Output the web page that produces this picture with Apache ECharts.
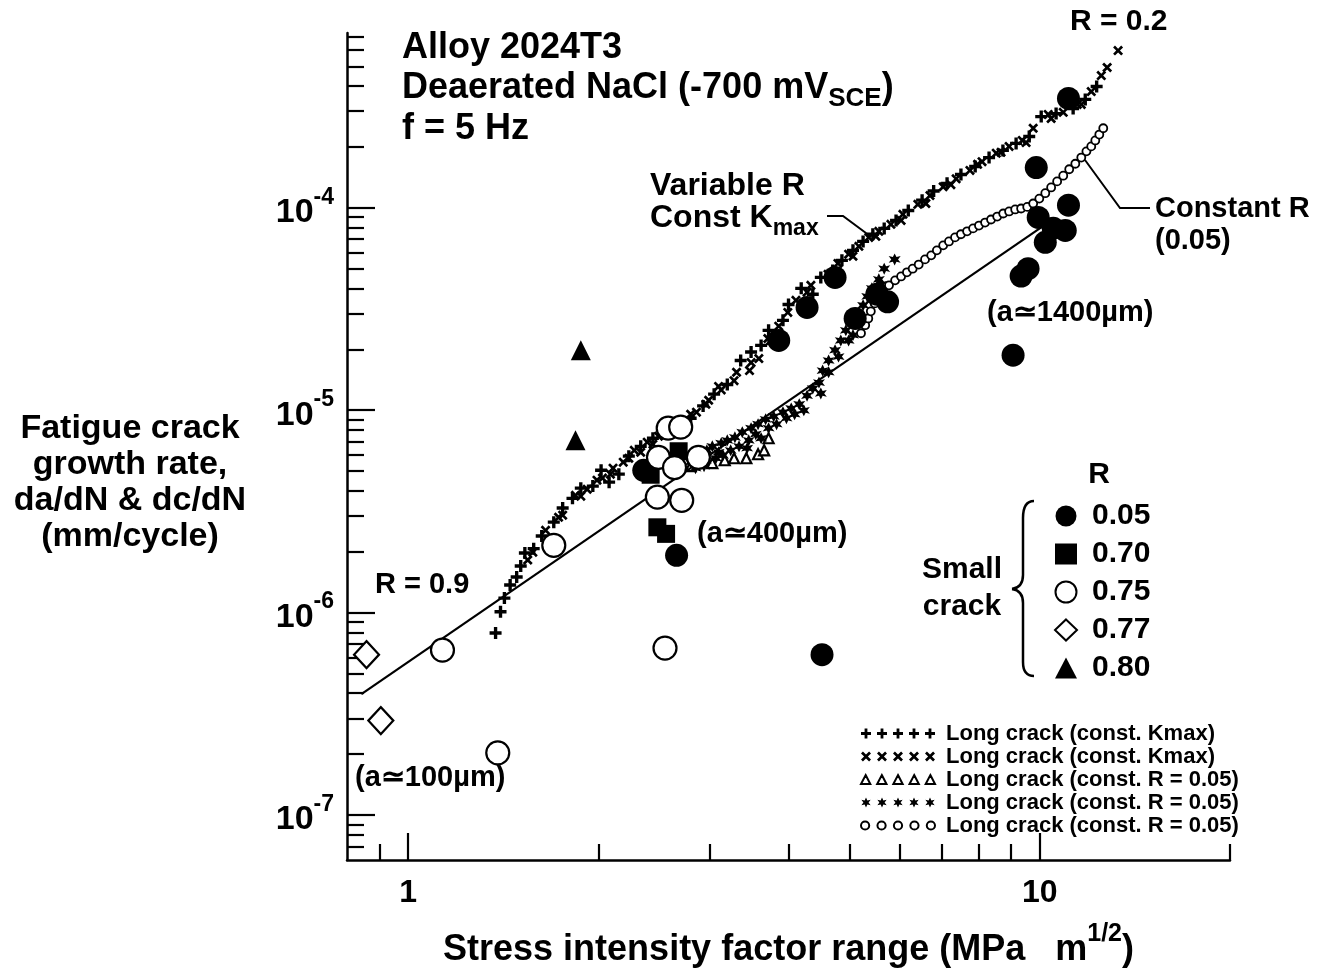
<!DOCTYPE html>
<html>
<head>
<meta charset="utf-8">
<title>Fatigue crack growth - Alloy 2024T3</title>
<script src="https://cdn.jsdelivr.net/npm/echarts@6/dist/echarts.min.js"></script>
<style>
  html, body { margin: 0; padding: 0; background: #fff; }
  #main { width: 1330px; height: 972px; }
</style>
</head>
<body>
<div id="main"></div>
<script>
// axis extents and ticks
var xRange = [0.8, 20];
var yRange = [6e-8, 7.3e-4];
var xMajorTicks = [1, 10];
var xMinorTicks = [0.9, 2, 3, 4, 5, 6, 7, 8, 9, 20];
var yMajorTicks = [1e-7, 1e-6, 1e-5, 1e-4];
var yMinorTicks = [7e-8, 8e-8, 9e-8,
  2e-7, 3e-7, 4e-7, 5e-7, 6e-7, 7e-7, 8e-7, 9e-7,
  2e-6, 3e-6, 4e-6, 5e-6, 6e-6, 7e-6, 8e-6, 9e-6,
  2e-5, 3e-5, 4e-5, 5e-5, 6e-5, 7e-5, 8e-5, 9e-5,
  2e-4, 3e-4, 4e-4, 5e-4, 6e-4, 7e-4];

// long crack, const Kmax (+)
var longKmaxPlus = [[1.375,7.93e-7],[1.40,1.01e-6],[1.42,1.18e-6],[1.45,1.37e-6],[1.485,1.50e-6],[1.507,1.70e-6],
  [1.53,1.97e-6],[1.58,2.07e-6],[1.627,2.39e-6],[1.70,2.80e-6],[1.756,3.29e-6],[1.82,3.67e-6],[1.876,4.12e-6],
  [1.96,4.22e-6],[2.02,5.05e-6],[2.08,4.41e-6],[2.155,4.83e-6],[2.235,5.93e-6],[2.334,6.63e-6],[2.44,7.27e-6],
  [2.53,7.70e-6],[2.66,8.34e-6],[2.80,9.13e-6],[2.93,1.05e-5],[3.05,1.20e-5],[3.20,1.34e-5],[3.36,1.76e-5],
  [3.49,1.94e-5],[3.62,2.09e-5],[3.72,2.48e-5],[3.92,2.78e-5],[4.00,3.33e-5],[4.19,4.0e-5],[4.37,3.74e-5],
  [4.50,4.53e-5],[4.70,4.90e-5],[4.86,5.50e-5],[5.06,6.16e-5],[5.25,6.82e-5],[5.44,7.40e-5],[5.67,7.91e-5],
  [5.92,8.66e-5],[6.19,9.70e-5],[6.51,1.09e-4],[6.79,1.21e-4],[7.13,1.32e-4],[7.50,1.46e-4],[7.90,1.60e-4],
  [8.31,1.77e-4],[8.74,1.92e-4],[9.17,2.08e-4],[9.62,2.25e-4],[10.05,2.82e-4],[10.61,2.92e-4],[11.29,3.09e-4],
  [11.8,3.43e-4],[12.3,3.97e-4]];

// long crack, const Kmax (x)
var longKmaxCross = [[1.546,1.82e-6],[1.575,1.99e-6],[1.65,2.55e-6],[1.67,2.28e-6],[1.73,2.96e-6],[1.756,3.03e-6],
  [1.84,3.80e-6],[1.876,3.76e-6],[1.92,4.07e-6],[1.99,4.51e-6],[2.03,4.62e-6],[2.09,4.83e-6],[2.11,5.17e-6],
  [2.19,5.54e-6],[2.235,5.79e-6],[2.28,6.34e-6],[2.334,6.20e-6],[2.39,6.95e-6],[2.44,6.79e-6],[2.49,7.44e-6],
  [2.55,8.15e-6],[2.60,7.96e-6],[2.68,8.53e-6],[2.73,8.82e-6],[2.80,9.55e-6],[2.86,9.78e-6],[2.96,1.07e-5],
  [2.99,1.12e-5],[3.10,1.31e-5],[3.13,1.26e-5],[3.28,1.40e-5],[3.31,1.54e-5],[3.47,1.57e-5],[3.49,1.72e-5],
  [3.59,1.80e-5],[3.71,2.26e-5],[3.75,2.21e-5],[3.86,2.60e-5],[3.99,3.04e-5],[4.11,3.49e-5],[4.28,3.83e-5],
  [4.34,4.14e-5],[4.62,4.69e-5],[4.67,4.58e-5],[4.79,5.31e-5],[4.98,5.90e-5],[5.06,5.76e-5],[5.17,6.45e-5],
  [5.36,7.14e-5],[5.50,7.23e-5],[5.56,7.65e-5],[5.81,8.28e-5],[6.03,8.66e-5],[6.07,9.28e-5],[6.41,1.04e-4],
  [6.60,1.05e-4],[6.70,1.15e-4],[7.03,1.27e-4],[7.23,1.30e-4],[7.37,1.39e-4],[7.75,1.53e-4],[7.97,1.64e-4],
  [8.10,1.69e-4],[8.53,1.86e-4],[8.68,1.88e-4],[8.94,2.01e-4],[9.38,2.15e-4],[9.51,2.10e-4],[9.76,2.47e-4],
  [10.31,2.89e-4],[10.42,2.76e-4],[10.89,2.96e-4],[11.46,3.24e-4],[11.63,3.24e-4],[12.06,3.75e-4],
  [12.51,4.50e-4],[12.78,4.93e-4],[13.3,5.98e-4]];

// long crack, const R = 0.05 (open triangles)
var longR05Tri = [[2.80,5.29e-6],[2.91,5.54e-6],[3.03,5.48e-6],[3.17,5.66e-6],[3.28,5.79e-6],[3.43,5.79e-6],
  [3.58,6.06e-6],[3.66,6.34e-6],[3.72,7.27e-6]];

// long crack, const R = 0.05 (asterisks)
var longR05Star = [[2.80,5.54e-6],[2.85,5.17e-6],[2.885,5.99e-6],[2.94,5.29e-6],[2.96,5.66e-6],[2.97,6.34e-6],
  [3.03,6.63e-6],[3.07,5.79e-6],[3.10,6.20e-6],[3.13,6.87e-6],[3.15,5.99e-6],[3.20,7.10e-6],[3.24,6.34e-6],
  [3.29,7.35e-6],[3.34,6.63e-6],[3.38,7.79e-6],[3.44,6.49e-6],[3.46,7.10e-6],[3.49,8.15e-6],[3.55,7.61e-6],
  [3.58,8.53e-6],[3.62,7.27e-6],[3.68,9.02e-6],[3.72,8.15e-6],[3.79,9.33e-6],[3.83,8.53e-6],[3.92,9.77e-6],
  [3.97,9.13e-6],[4.04,1.02e-5],[4.09,9.55e-6],[4.16,1.07e-5],[4.23,9.99e-6],[4.28,1.18e-5],[4.37,1.28e-5],
  [4.47,1.37e-5],[4.50,1.21e-5],[4.53,1.57e-5],[4.63,1.54e-5],[4.63,1.76e-5],[4.74,1.98e-5],[4.80,1.84e-5],
  [4.84,2.21e-5],[4.98,2.21e-5],[4.93,2.48e-5],[5.02,2.72e-5],[5.06,2.35e-5],[5.13,3.0e-5],[5.25,2.63e-5],
  [5.25,3.30e-5],[5.33,3.65e-5],[5.40,3.49e-5],[5.42,4.0e-5],[5.56,4.43e-5],[5.60,4.18e-5],[5.67,5.0e-5],
  [5.89,5.56e-5]];

// long crack, const R = 0.05 (small open circles)
var longR05Circle = [[5.21,2.40e-5],[5.29,2.63e-5],[5.35,2.84e-5],[5.40,3.08e-5],[5.48,3.37e-5],[5.56,3.65e-5],
  [5.65,3.91e-5],[5.77,4.14e-5],[5.90,4.38e-5],[6.03,4.58e-5],[6.16,4.80e-5],[6.29,5.0e-5],[6.43,5.24e-5],
  [6.58,5.56e-5],[6.73,5.82e-5],[6.87,6.16e-5],[7.03,6.52e-5],[7.18,6.82e-5],[7.34,7.14e-5],[7.50,7.40e-5],
  [7.67,7.65e-5],[7.84,7.91e-5],[8.01,8.17e-5],[8.19,8.45e-5],[8.37,8.75e-5],[8.56,9.05e-5],[8.75,9.37e-5],
  [8.94,9.59e-5],[9.14,9.81e-5],[9.34,9.92e-5],[9.55,1.01e-4],[9.76,1.05e-4],[9.98,1.11e-4],[10.2,1.18e-4],
  [10.42,1.26e-4],[10.65,1.35e-4],[10.89,1.44e-4],[11.13,1.55e-4],[11.38,1.65e-4],[11.63,1.77e-4],
  [11.85,1.90e-4],[12.06,2.01e-4],[12.24,2.15e-4],[12.42,2.30e-4],[12.6,2.47e-4]];

// small cracks
var smallR005 = [[11.1,3.47e-4],[9.87,1.58e-4],[11.1,1.03e-4],[9.94,8.96e-5],[10.5,7.93e-5],[10.97,7.73e-5],
  [10.2,6.75e-5],[9.58,5.0e-5],[9.34,4.6e-5],[9.07,1.87e-5],[4.74,4.53e-5],[4.28,3.22e-5],[3.86,2.21e-5],
  [5.52,3.74e-5],[5.74,3.43e-5],[5.1,2.84e-5],[2.66,1.92e-6],[4.52,6.2e-7],[2.36,5.05e-6]];
var smallR070 = [[2.68,6.27e-6],[2.42,4.8e-6],[2.48,2.64e-6],[2.56,2.45e-6]];
var smallR075 = [[1.133,6.53e-7],[2.55,6.68e-7],[1.70,2.15e-6],[2.58,8.15e-6],[2.70,8.25e-6],[2.49,5.85e-6],
  [2.64,5.2e-6],[2.88,5.85e-6],[2.48,3.72e-6],[2.71,3.59e-6],[1.386,2.03e-7]];
var smallR077 = [[0.859,6.2e-7],[0.905,2.93e-7]];
var smallR080 = [[1.876,1.98e-5],[1.84,7.1e-6]];

// solid line through the small-crack data (R = 0.9)
var lineR09 = [[0.843,3.96e-7],[10.05,8.0e-5]];

var longLabels = ['Long crack (const. Kmax)', 'Long crack (const. Kmax)', 'Long crack (const. R = 0.05)',
  'Long crack (const. R = 0.05)', 'Long crack (const. R = 0.05)'];
var smallLabels = ['0.05', '0.70', '0.75', '0.77', '0.80'];

var FONT = '"Liberation Sans", Arial, Helvetica, sans-serif';

// marker outlines on a 10x10 cell
var plusPts = [[3.6,0],[6.4,0],[6.4,3.6],[10,3.6],[10,6.4],[6.4,6.4],[6.4,10],[3.6,10],[3.6,6.4],[0,6.4],[0,3.6],[3.6,3.6]];
var crossPts = [[0,1.9],[1.9,0],[5,3.1],[8.1,0],[10,1.9],[6.9,5],[10,8.1],[8.1,10],[5,6.9],[1.9,10],[0,8.1],[3.1,5]];
var starPts = [[5,0],[6.4,3],[9.6,2.2],[7.6,5],[9.6,7.8],[6.4,7],[5,10],[3.6,7],[0.4,7.8],[2.4,5],[0.4,2.2],[3.6,3]];
var triPts = [[5,0.6],[9.6,9.4],[0.4,9.4]];

function poly(pts, dx) {
  return 'M' + pts.map(function (p) { return (p[0] + dx) + ',' + p[1]; }).join('L') + 'Z';
}
function ring(dx) {
  return 'M' + (dx + 1) + ',5a4,4 0 1,0 8,0a4,4 0 1,0 -8,0Z';
}
function rowIcon(fn) {
  var s = '';
  for (var i = 0; i < 5; i++) s += fn(i * 16);
  return 'path://' + s;
}

var PLUS = 'path://' + poly(plusPts, 0);
var CROSS = 'path://' + poly(crossPts, 0);
var STAR = 'path://' + poly(starPts, 0);

var chart = echarts.init(document.getElementById('main'), null, { renderer: 'canvas' });

function lg(v) { return Math.log10(v); }

function txt(x, y, text, size, align) {
  return {
    type: 'text', x: x, y: y, z: 100,
    style: { text: text, font: 'bold ' + size + 'px ' + FONT, fill: '#000',
      align: align || 'left', verticalAlign: 'middle' }
  };
}
function subTxt(x, y, main, sub, tail, size) {
  return {
    type: 'text', x: x, y: y, z: 100,
    style: {
      text: '{t|' + main + '}{s|' + sub + '}' + (tail ? '{t|' + tail + '}' : ''),
      align: 'left', verticalAlign: 'middle', fill: '#000',
      rich: {
        t: { fontSize: size, fontWeight: 'bold', fontFamily: FONT, fill: '#000', lineHeight: size + 6, verticalAlign: 'top' },
        s: { fontSize: Math.round(size * 0.72), fontWeight: 'bold', fontFamily: FONT, fill: '#000',
          lineHeight: Math.round(size * 0.72), verticalAlign: 'bottom' }
      }
    }
  };
}
function seg(points, w) {
  return { type: 'polyline', z: 100, shape: { points: points },
    style: { stroke: '#000', lineWidth: w || 2, fill: null } };
}
function bez(a, c1, c2, b) {
  return { type: 'bezierCurve', z: 100,
    shape: { x1: a[0], y1: a[1], cpx1: c1[0], cpy1: c1[1], cpx2: c2[0], cpy2: c2[1], x2: b[0], y2: b[1] },
    style: { stroke: '#000', lineWidth: 2.5, fill: null } };
}

var tickLine = { color: '#000', width: 2.2 };
var solid = { color: '#000', opacity: 1 };
var hollow = { color: '#fff', borderColor: '#000', opacity: 1 };

var option = {
  animation: false,
  backgroundColor: '#fff',
  grid: { left: 347, right: 100, top: 33, bottom: 112, containLabel: false, outerBoundsMode: 'none' },
  xAxis: [
    { type: 'log', logBase: 10, min: xRange[0], max: xRange[1], show: false },
    {
      type: 'value', min: lg(xRange[0]), max: lg(xRange[1]), position: 'bottom',
      axisLine: { show: true, onZero: false, lineStyle: { color: '#000', width: 2.5 } },
      axisTick: { show: true, inside: true, length: 27, customValues: xMajorTicks.map(lg), lineStyle: tickLine },
      axisLabel: {
        show: true, customValues: xMajorTicks.map(lg), margin: 17,
        formatter: function (v) { return String(Math.round(Math.pow(10, v))); },
        fontSize: 32, fontWeight: 'bold', fontFamily: FONT, color: '#000'
      },
      splitLine: { show: false },
      name: '{t|Stress intensity factor range (MPa   m}{s|1/2}{t|)}',
      nameLocation: 'middle', nameGap: 62,
      nameTextStyle: {
        rich: {
          t: { fontSize: 36, fontWeight: 'bold', fontFamily: FONT, color: '#000', lineHeight: 46, verticalAlign: 'bottom' },
          s: { fontSize: 25, fontWeight: 'bold', fontFamily: FONT, color: '#000', lineHeight: 25, verticalAlign: 'top' }
        }
      }
    },
    {
      type: 'value', min: lg(xRange[0]), max: lg(xRange[1]), position: 'bottom',
      axisLine: { show: false, onZero: false },
      axisTick: { show: true, inside: true, length: 16, customValues: xMinorTicks.map(lg), lineStyle: tickLine },
      axisLabel: { show: false }, splitLine: { show: false }
    }
  ],
  yAxis: [
    { type: 'log', logBase: 10, min: yRange[0], max: yRange[1], show: false },
    {
      type: 'value', min: lg(yRange[0]), max: lg(yRange[1]), position: 'left',
      axisLine: { show: true, onZero: false, lineStyle: { color: '#000', width: 2.5 } },
      axisTick: { show: true, inside: true, length: 28, customValues: yMajorTicks.map(lg), lineStyle: tickLine },
      axisLabel: {
        show: true, customValues: yMajorTicks.map(lg), margin: 13,
        formatter: function (v) { return '{b|10}{s|' + Math.round(v) + '}'; },
        rich: {
          b: { fontSize: 34, fontWeight: 'bold', fontFamily: FONT, color: '#000', lineHeight: 44, verticalAlign: 'bottom' },
          s: { fontSize: 23, fontWeight: 'bold', fontFamily: FONT, color: '#000', lineHeight: 22, verticalAlign: 'top' }
        }
      },
      splitLine: { show: false }
    },
    {
      type: 'value', min: lg(yRange[0]), max: lg(yRange[1]), position: 'left',
      axisLine: { show: false, onZero: false },
      axisTick: { show: true, inside: true, length: 17, customValues: yMinorTicks.map(lg), lineStyle: tickLine },
      axisLabel: { show: false }, splitLine: { show: false }
    }
  ],
  legend: [
    {
      orient: 'vertical', left: 855, top: 717, selectedMode: false,
      itemWidth: 74, itemHeight: 10, itemGap: 0,
      formatter: function (n) { return n.replace(/ #\d$/, ''); },
      textStyle: { fontSize: 22, fontWeight: 'bold', fontFamily: FONT, color: '#000', lineHeight: 23, padding: [0, 0, 0, 6] },
      data: [
        { name: longLabels[0] + ' #1', icon: rowIcon(function (dx) { return poly(plusPts, dx); }) },
        { name: longLabels[1] + ' #2', icon: rowIcon(function (dx) { return poly(crossPts, dx); }) },
        { name: longLabels[2] + ' #3', icon: rowIcon(function (dx) { return poly(triPts, dx); }) },
        { name: longLabels[3] + ' #4', icon: rowIcon(function (dx) { return poly(starPts, dx); }) },
        { name: longLabels[4] + ' #5', icon: rowIcon(ring) }
      ]
    },
    {
      orient: 'vertical', left: 1049, top: 492, selectedMode: false,
      itemWidth: 22, itemHeight: 21, itemGap: 0,
      textStyle: { fontSize: 30, fontWeight: 'bold', fontFamily: FONT, color: '#000', lineHeight: 38, padding: [0, 0, 0, 10] },
      data: smallLabels
    }
  ],
  series: [
    { name: longLabels[0] + ' #1', type: 'scatter', data: longKmaxPlus, symbol: PLUS, symbolSize: 12,
      itemStyle: solid, z: 2 },
    { name: longLabels[1] + ' #2', type: 'scatter', data: longKmaxCross, symbol: CROSS, symbolSize: 10,
      itemStyle: solid, z: 2 },
    { name: longLabels[2] + ' #3', type: 'scatter', data: longR05Tri, symbol: 'triangle', symbolSize: 10,
      itemStyle: Object.assign({ borderWidth: 2.2 }, hollow), z: 2 },
    { name: longLabels[3] + ' #4', type: 'scatter', data: longR05Star, symbol: STAR, symbolSize: 12,
      itemStyle: solid, z: 2 },
    { name: longLabels[4] + ' #5', type: 'scatter', data: longR05Circle, symbol: 'circle', symbolSize: 8,
      itemStyle: Object.assign({ borderWidth: 1.8 }, hollow), z: 2 },
    { name: 'R = 0.9 line', type: 'line', data: lineR09, symbol: 'none',
      lineStyle: { color: '#000', width: 2.2 }, z: 3 },
    { name: smallLabels[0], type: 'scatter', data: smallR005, symbol: 'circle', symbolSize: 23,
      itemStyle: solid, z: 4 },
    { name: smallLabels[1], type: 'scatter', data: smallR070, symbol: 'rect', symbolSize: 18,
      itemStyle: solid, z: 4 },
    { name: smallLabels[2], type: 'scatter', data: smallR075, symbol: 'circle', symbolSize: 23,
      itemStyle: Object.assign({ borderWidth: 2.2 }, hollow), z: 5 },
    { name: smallLabels[3], type: 'scatter', data: smallR077, symbol: 'diamond', symbolSize: [25, 27],
      itemStyle: Object.assign({ borderWidth: 2.2 }, hollow), z: 5 },
    { name: smallLabels[4], type: 'scatter', data: smallR080, symbol: 'triangle', symbolSize: 20,
      itemStyle: solid, z: 5 }
  ],
  graphic: [
    txt(402, 48, 'Alloy 2024T3', 36),
    subTxt(402, 91, 'Deaerated NaCl (-700 mV', 'SCE', ')', 36),
    txt(402, 129, 'f = 5 Hz', 36),
    txt(1070, 22, 'R = 0.2', 30),
    txt(650, 186, 'Variable R', 32),
    subTxt(650, 221, 'Const K', 'max', '', 32),
    txt(1155, 209, 'Constant R', 29),
    txt(1155, 241, '(0.05)', 29),
    txt(987, 313, '(a\u2243' + '1400\u00b5m)', 29),
    txt(697, 534, '(a\u2243' + '400\u00b5m)', 29),
    txt(375, 585, 'R = 0.9', 29),
    txt(355, 778, '(a\u2243' + '100\u00b5m)', 29),
    {
      type: 'text', x: 130, y: 483, z: 100,
      style: { text: 'Fatigue crack\ngrowth rate,\nda/dN & dc/dN\n(mm/cycle)', font: 'bold 34px ' + FONT,
        fill: '#000', align: 'center', verticalAlign: 'middle', lineHeight: 36 }
    },
    txt(1099, 475, 'R', 30, 'center'),
    txt(962, 570, 'Small', 30, 'center'),
    txt(962, 607, 'crack', 30, 'center'),
    seg([[827, 216], [843, 216], [870, 236]]),
    seg([[1150, 208], [1120, 208], [1085, 160]]),
    bez([1034, 501], [1026, 501], [1023, 507], [1023, 518]),
    seg([[1023, 518], [1023, 575]], 2.5),
    bez([1023, 575], [1023, 583], [1019, 588], [1012, 589]),
    bez([1012, 589], [1019, 590], [1023, 595], [1023, 603]),
    seg([[1023, 603], [1023, 662]], 2.5),
    bez([1023, 662], [1023, 671], [1026, 676], [1034, 676])
  ]
};

chart.setOption(option);
</script>
</body>
</html>
